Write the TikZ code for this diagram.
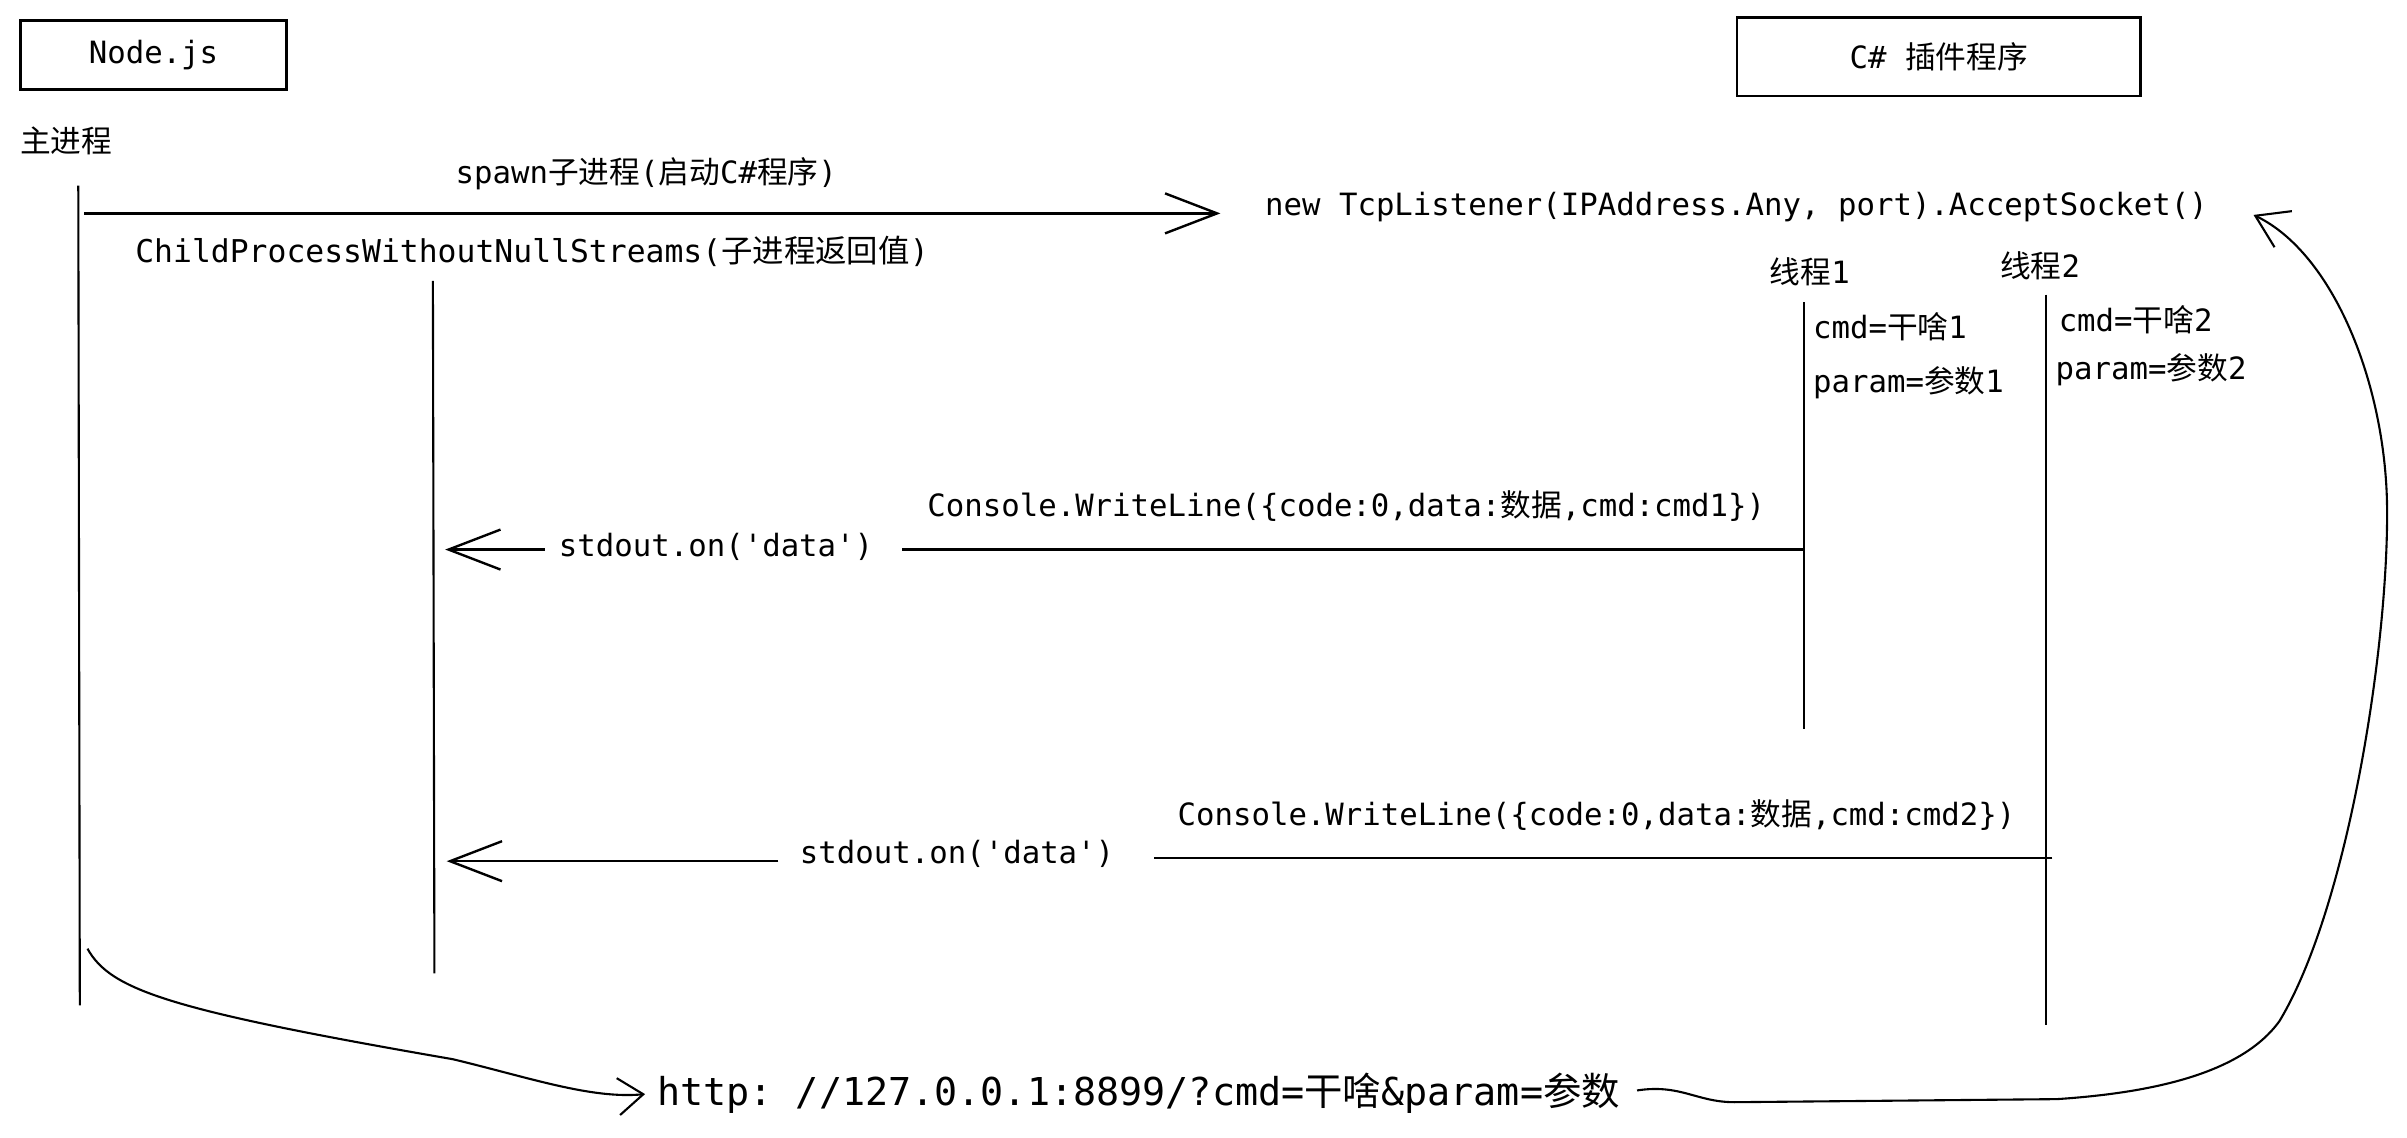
\documentclass[tikz,border=0pt]{standalone}
\usepackage{fontspec}
\setmonofont{DejaVu Sans Mono}
\newfontfamily\cjk{Noto Sans CJK SC}
\newcommand{\zh}[1]{{\cjk #1}}
\usetikzlibrary{arrows.meta}

\begin{document}
\begin{tikzpicture}[x=1.535pt, y=-1.535pt,
        every node/.style={inner sep=0pt, font=\ttfamily\fontsize{30.7}{37}\selectfont},
        box/.style={draw, line width=2.6pt},
        life/.style={line width=2.1pt},
        wire/.style={line width=2.4pt},
        msg/.style={wire, -{Straight Barb[length=52pt, width=40pt, line width=2.4pt]}},
        back/.style={line width=2.1pt, -{Straight Barb[length=25pt, width=37pt, line width=2.1pt]}}]
    \useasboundingbox (0,0) rectangle (1568,740.7);

    \node[box, minimum width=265.6pt, minimum height=69pt] (nodejs) at (100,36) {Node.js};
    \node[box, minimum width=403.7pt, minimum height=78pt] (plugin) at (1263,37) {C\# \zh{插件程序}};

    \node[anchor=west] (main) at (13,92) {\zh{主进程}};
    \node (spawn) at (421,113) {spawn\zh{子进程}(\zh{启动}C\#\zh{程序})};
    \node[anchor=west, font=\ttfamily\fontsize{31.4}{38}\selectfont] (childproc) at (88,164) {ChildProcessWithoutNullStreams(\zh{子进程返回值})};
    \node[anchor=west] (listener) at (824,135) {new TcpListener(IPAddress.Any, port).AcceptSocket()};

    \node (thread1) at (1179,177) {\zh{线程}1};
    \node (thread2) at (1329,173) {\zh{线程}2};
    \node[anchor=west] (cmd1) at (1181,213) {cmd=\zh{干啥}1};
    \node[anchor=west] (param1) at (1181,249) {param=\zh{参数}1};
    \node[anchor=west] (cmd2) at (1341,208) {cmd=\zh{干啥}2};
    \node[anchor=west] (param2) at (1339,241) {param=\zh{参数}2};

    \node[anchor=west] (write1) at (604,330) {Console.WriteLine(\{code:0,data:\zh{数据},cmd:cmd1\})};
    \node[anchor=west] (stdout1) at (364,356) {stdout.on('data')};
    \node[anchor=west] (write2) at (767,531) {Console.WriteLine(\{code:0,data:\zh{数据},cmd:cmd2\})};
    \node[anchor=west] (stdout2) at (521,556) {stdout.on('data')};

    \node[anchor=west, font=\ttfamily\fontsize{38.4}{46}\selectfont] (url) at (428,712) {http: //127.0.0.1:8899/?cmd=\zh{干啥}\&param=\zh{参数}};

    \coordinate (main top) at (51,121);
    \coordinate (main bot) at (52,655);
    \coordinate (child top) at (282,183);
    \coordinate (child bot) at (283,634);
    \coordinate (t1 top) at (1175,197);
    \coordinate (t1 bot) at (1175,475);
    \coordinate (t2 top) at (1333,192);
    \coordinate (t2 bot) at (1333,668);

    \draw[life] (main top) -- (main bot);
    \draw[life] (child top) -- (child bot);
    \draw[life] (t1 top) -- (t1 bot);
    \draw[life] (t2 top) -- (t2 bot);

    \coordinate (m1) at (55,139);
    \coordinate (a1) at (1175,358);
    \coordinate (c1) at (290,358);
    \coordinate (a2) at (1337,559);
    \coordinate (c2) at (291,561);
    \coordinate (m2) at (57,618);

    \draw[msg, shorten >=44.5pt] (m1) -- (m1 -| listener.west);
    \draw[wire, shorten >=29pt] (a1) -- (a1 -| stdout1.east);
    \draw[msg, shorten <=14pt] (c1 -| stdout1.west) -- (c1);
    \draw[wire, shorten >=40pt] (a2) -- (a2 -| stdout2.east);
    \draw[msg, shorten <=21.5pt] (c2 -| stdout2.west) -- (c2);

    \draw[back, shorten >=12pt] (m2) .. controls (72,645) and (110,658) .. (295,690)
        .. controls (345,702) and (385,716) .. (url.west);
    \draw[back, -{Straight Barb[length=31pt, width=40pt, line width=2.1pt]}, shorten <=17pt]
        (url.east) .. controls (1095,706) and (1105,718) .. (1130,718) -- (1340,716)
        .. controls (1400,712) and (1460,700) .. (1485,665)
        .. controls (1530,590) and (1556,420) .. (1555,330)
        .. controls (1554,250) and (1520,165) .. (1468,140);
\end{tikzpicture}
\end{document}
